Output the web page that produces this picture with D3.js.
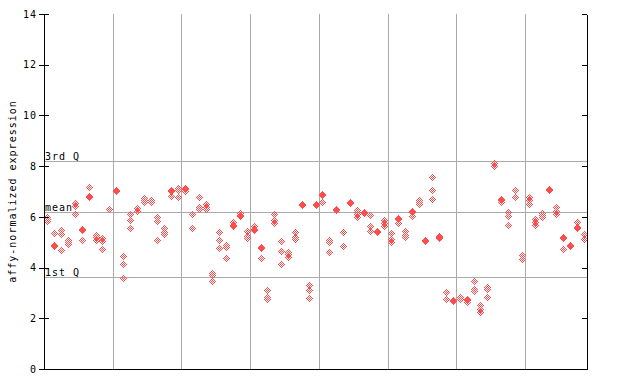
<!DOCTYPE html>
<html>
<head>
<meta charset="utf-8">
<script src="https://cdn.jsdelivr.net/npm/d3@7"></script>
<style>
  body { margin: 0; background: #fff; }
  text { font-family: "DejaVu Sans Mono", monospace; font-size: 10px; letter-spacing: 1px; fill: #000; }
</style>
</head>
<body>
<div id="chart"></div>
<script>
// replicate values per sample (79 samples, gridline every 10)
var samples = [
  [5.98, 5.90, 5.82], [5.35, 4.90, 4.86], [5.48, 5.32, 4.69], [5.08, 5.00, 4.93], [6.53, 6.42, 6.13],
  [5.54, 5.48, 5.08], [7.16, 6.82, 6.77], [5.28, 5.21, 5.08], [5.15, 5.06, 4.73], [6.30],
  [7.05, 7.01], [4.45, 4.14, 3.59], [6.13, 5.87, 5.58], [6.33, 6.25], [6.75, 6.66, 6.57],
  [6.66, 6.57], [6.00, 5.83, 5.08], [5.58, 5.39, 5.31], [7.05, 7.01, 6.83], [7.14, 7.05, 6.80],
  [7.12, 7.08, 7.03], [6.11, 5.58], [6.77, 6.40, 6.32], [6.49, 6.40, 6.32], [3.77, 3.69, 3.46],
  [5.40, 5.08, 4.77], [4.89, 4.82, 4.37], [5.80, 5.66, 5.63], [6.17, 6.09, 6.02], [5.43, 5.23, 5.15],
  [5.63, 5.54, 5.48], [4.80, 4.76, 4.37], [3.10, 2.85, 2.75], [6.11, 5.86, 5.76], [5.04, 4.64, 4.16],
  [4.61, 4.52, 4.42], [5.39, 5.21, 5.13], [6.49, 6.45], [3.30, 3.10, 2.79], [6.49, 6.45],
  [6.89, 6.85, 6.58], [5.08, 5.00, 4.61], [6.30, 6.26], [5.40, 4.85], [6.57, 6.53],
  [6.29, 6.20, 6.11, 5.98], [6.19, 6.15], [6.07, 5.63, 5.45], [5.46, 5.42], [5.87, 5.74, 5.63],
  [5.35, 5.11, 5.00], [5.94, 5.90, 5.74], [5.46, 5.28, 5.19], [6.23, 6.19, 6.02], [6.66, 6.57, 6.49],
  [5.10, 5.06], [7.59, 7.04, 6.69], [5.23, 5.19, 5.15], [3.02, 2.75], [2.71, 2.69],
  [2.85, 2.77], [2.77, 2.72, 2.65], [3.46, 3.14, 3.06], [2.51, 2.35, 2.23], [3.22, 3.14, 2.83],
  [8.14, 7.99], [6.71, 6.67, 6.57], [6.21, 6.02, 5.66], [7.04, 6.80], [4.48, 4.32],
  [6.77, 6.65, 6.49], [5.90, 5.78, 5.66], [6.17, 6.06, 5.98], [7.08, 7.04], [6.37, 6.25, 6.10],
  [5.21, 5.17, 4.72], [4.89, 4.85], [5.78, 5.60, 5.56], [5.31, 5.11]
];
var yTicks = [0, 2, 4, 6, 8, 10, 12, 14];
var refValues = [8.22, 6.21, 3.62];
var refLabels = ["3rd Q", "mean", "1st Q"];
var groupSize = 10;

var W = 640, H = 384;
var plotLeft = 44, plotRight = 587, plotTop = 14, plotBottom = 369;

var svg = d3.select("#chart").append("svg")
    .attr("width", W).attr("height", H)
    .attr("shape-rendering", "crispEdges");

var x = d3.scaleBand()
    .domain(d3.range(samples.length))
    .range([plotLeft, plotRight]);

var y = d3.scaleLinear()
    .domain([0, 14])
    .range([plotBottom, plotTop]);

// vertical group lines
var groupStarts = d3.range(groupSize, samples.length, groupSize);
svg.append("g").selectAll("line")
    .data(groupStarts)
    .enter().append("line")
    .attr("x1", function(d) { return Math.round(x(d)) + 0.5; })
    .attr("x2", function(d) { return Math.round(x(d)) + 0.5; })
    .attr("y1", plotTop).attr("y2", plotBottom)
    .attr("stroke", "#aaa");

// quartile / mean lines
svg.append("g").selectAll("line")
    .data(refValues)
    .enter().append("line")
    .attr("x1", plotLeft).attr("x2", plotRight)
    .attr("y1", function(d) { return Math.round(y(d)) + 0.5; })
    .attr("y2", function(d) { return Math.round(y(d)) + 0.5; })
    .attr("stroke", "#aaa");

svg.append("g").selectAll("text")
    .data(refValues)
    .enter().append("text")
    .attr("x", plotLeft + 1)
    .attr("y", function(d) { return Math.round(y(d)) - 1; })
    .text(function(d, i) { return refLabels[i]; });

// checkered diamond marker
var marker = "";
for (var dy = -3; dy <= 3; dy++) {
  for (var dx = -3; dx <= 3; dx++) {
    if (Math.abs(dx) + Math.abs(dy) <= 3 && Math.abs(dx + dy) % 2 == 1) {
      marker += "M" + dx + "," + dy + "h1v1h-1z";
    }
  }
}

var points = [];
samples.forEach(function(vals, i) {
  vals.forEach(function(v) { points.push({i: i, v: v}); });
});

svg.append("g").selectAll("path")
    .data(points)
    .enter().append("path")
    .attr("d", marker)
    .attr("fill", "#ff4d4d")
    .attr("transform", function(d) {
      return "translate(" + Math.round(x(d.i) + x.bandwidth() / 2) + "," + Math.round(y(d.v)) + ")";
    });

// axes
var yAxis = svg.append("g")
    .attr("transform", "translate(" + plotLeft + ",0)")
    .call(d3.axisLeft(y).tickValues(yTicks).tickSize(5).tickSizeOuter(0).tickPadding(2));
yAxis.attr("font-family", null).attr("font-size", null);

svg.append("g")
    .attr("transform", "translate(" + plotLeft + ",0)")
    .call(d3.axisRight(y).tickValues(yTicks).tickSize(5).tickSizeOuter(0).tickFormat(""))
    .select(".domain").remove();

svg.append("g")
    .attr("transform", "translate(" + plotRight + ",0)")
    .call(d3.axisLeft(y).tickValues(yTicks).tickSize(5).tickSizeOuter(0).tickFormat(""));

svg.append("g")
    .attr("transform", "translate(0," + plotBottom + ")")
    .call(d3.axisBottom(x).tickValues([]).tickSizeOuter(0));

svg.append("text")
    .attr("text-anchor", "middle")
    .attr("dominant-baseline", "central")
    .attr("transform", "translate(12," + ((plotTop + plotBottom) / 2) + ")rotate(-90)")
    .text("affy-normalized expression");
</script>
</body>
</html>
